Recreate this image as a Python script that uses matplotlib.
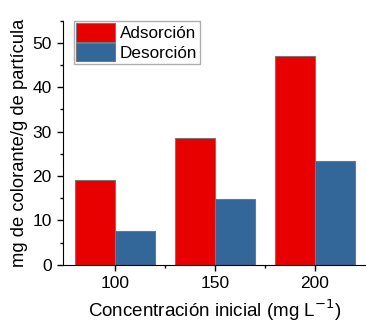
import numpy as np
import matplotlib.pyplot as plt
from matplotlib.ticker import MultipleLocator, FixedLocator

# datos
concentraciones = ["100", "150", "200"]
adsorcion = [19.1, 28.6, 47.1]
desorcion = [7.7, 14.9, 23.4]

plt.rcParams['font.family'] = ['Liberation Sans', 'DejaVu Sans']

fig = plt.figure(figsize=(3.66, 3.23), dpi=100)
ax = fig.add_axes([0.172, 0.180, 0.83, 0.756])

x = np.arange(len(concentraciones))
w = 0.4
ax.bar(x - w / 2, adsorcion, w, color="#E80000", edgecolor="#777777", linewidth=0.8, label="Adsorción")
ax.bar(x + w / 2, desorcion, w, color="#336699", edgecolor="#777777", linewidth=0.8, label="Desorción")

ax.set_xlim(-0.52, 2.52)
ax.set_ylim(0, 55)
ax.set_xticks(x)
ax.set_xticklabels(concentraciones)
ax.xaxis.set_minor_locator(FixedLocator([0.5, 1.5]))
ax.yaxis.set_major_locator(MultipleLocator(10))
ax.yaxis.set_minor_locator(MultipleLocator(5))

for s in ["top", "right"]:
    ax.spines[s].set_visible(False)
ax.tick_params(which="major", length=4.5, width=1, labelsize=12.5, direction="out")
ax.tick_params(which="minor", length=2.5, width=1, direction="out")

ax.set_xlabel("Concentración inicial (mg L$^{-1}$)", fontsize=13.5, labelpad=5)
ax.set_ylabel("mg de colorante/g de partícula", fontsize=13.2, labelpad=3)

leg = ax.legend(loc="upper left", bbox_to_anchor=(0.035, 1.0), fontsize=12.3, frameon=True,
                fancybox=False, edgecolor="#999999", handlelength=2.25, handleheight=1.3,
                handletextpad=0.3, borderpad=0.15, labelspacing=0.05, borderaxespad=0.0)

fig.savefig("out.png", dpi=100)
